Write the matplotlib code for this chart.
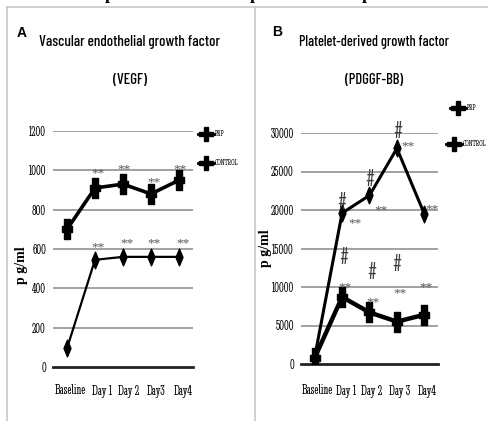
import matplotlib
matplotlib.use("Agg")
import matplotlib.pyplot as plt
from matplotlib.lines import Line2D
from matplotlib.path import Path
import matplotlib.font_manager as fm

categories = ["Baseline", "Day1", "Day2", "Day3", "Day4"]
cat_labels_a = ["Baseline", "Day 1", "Day 2", "Day3", "Day4"]
cat_labels_b = ["Baseline", "Day 1", "Day 2", "Day 3", "Day4"]

vegf_prp = [95, 545, 560, 560, 560]
vegf_control = [700, 910, 930, 880, 950]
pdgf_prp = [900, 19600, 21900, 28000, 19500]
pdgf_control = [800, 8700, 6700, 5500, 6400]

yticks_a = [0, 200, 400, 600, 800, 1000, 1200]
yticks_b = [0, 5000, 10000, 15000, 20000, 25000, 30000]

W, H = 489, 421


def pick(cands):
    for n in cands:
        try:
            fm.findfont(fm.FontProperties(family=n), fallback_to_default=False)
            return n
        except Exception:
            continue
    return "DejaVu Sans"


NARROW = pick(["Barlow Condensed", "Roboto Condensed", "PT Sans Narrow",
               "Archivo Narrow", "Liberation Sans"])
SERIFN = pick(["Noto Serif ExtraCondensed", "Noto Serif Condensed",
               "Noto Serif Display ExtraCondensed", "Stint Ultra Condensed",
               "Liberation Serif"])
SERIF = pick(["Liberation Serif", "DejaVu Serif"])

fig = plt.figure(figsize=(W / 100, H / 100), dpi=100)
renderer = fig.canvas.get_renderer()


def fit(t, width_px):
    bb = t.get_window_extent(renderer)
    t.set_fontsize(t.get_fontsize() * width_px / bb.width)
    return t.get_fontsize()


# fat cross marker (tall)
cross = Path([(-0.28, -1), (0.28, -1), (0.28, -0.3), (0.5, -0.3), (0.5, 0.3),
              (0.28, 0.3), (0.28, 1), (-0.28, 1), (-0.28, 0.3), (-0.5, 0.3),
              (-0.5, -0.3), (-0.28, -0.3), (-0.28, -1)], closed=True)
diamond = Path([(0, -1), (0.42, 0), (0, 1), (-0.42, 0), (0, -1)], closed=True)

# frame
fig.add_artist(Line2D([7 / W, 1], [1 - 7 / H, 1 - 7 / H], color="#c8c8c8", lw=1.2))
fig.add_artist(Line2D([7 / W, 7 / W], [0, 1 - 7 / H], color="#c8c8c8", lw=1.2))
fig.add_artist(Line2D([255 / W, 255 / W], [0, 1 - 7 / H], color="#c8c8c8", lw=1.2))

# cut-off caption descenders at top
for px in [110, 255, 367]:
    fig.text(px / W, 1.0 + 1 / H, "p", fontsize=13, fontweight="bold", family=SERIF,
             ha="center", va="baseline")

x = [i + 0.5 for i in range(len(categories))]

# tick-label sizes fitted to the reference widths
probe = fig.text(0, 0, "30000", family=SERIFN, fontsize=8)
TICK_FS = min(fit(probe, 23), 11)
probe.remove()
probe = fig.text(0, 0, "Baseline", family=SERIFN, fontsize=8)
XLAB_FS = min(fit(probe, 31), 11)
probe.remove()


def style(ax, yticks, labels, xlab_centers):
    ax.set_xlim(0, 5)
    ax.set_ylim(yticks[0], yticks[-1])
    ax.set_yticks(yticks)
    ax.set_yticklabels([str(t) for t in yticks], family=SERIFN, fontsize=TICK_FS)
    ax.set_xticks(x)
    ax.set_xticklabels([])
    ax.tick_params(length=0, pad=5)
    for s in ["left", "right", "top"]:
        ax.spines[s].set_visible(False)
    ax.spines["bottom"].set_linewidth(2.0)
    ax.spines["bottom"].set_color("#222222")
    for t in yticks[1:]:
        ax.axhline(t, color="#9a9a9a", lw=1.3, zorder=0)
    for lab, xc in zip(labels, xlab_centers):
        fig.text(xc / W, 1 - 391 / H, lab, family=SERIFN, fontsize=XLAB_FS,
                 ha="center", va="center")
    ax.set_ylabel("p g/ml", family=SERIF, fontweight="bold", fontsize=10)


ax1 = fig.add_axes([53 / W, 1 - 367 / H, 140 / W, 236 / H])
style(ax1, yticks_a, cat_labels_a, [70, 102, 129, 156, 183])
ax1.yaxis.set_label_coords(-0.18, 0.43)
ax1.plot(x, vegf_prp, color="black", lw=1.6, marker=diamond, ms=12, zorder=3)
ax1.plot(x, vegf_control, color="black", lw=2.6, marker=cross, ms=15, zorder=3)
for xi, yi in [(1.61, 986), (2.54, 1007), (3.61, 940), (4.54, 1007),
               (1.61, 610), (2.64, 630), (3.61, 630), (4.64, 630)]:
    ax1.text(xi, yi, "**", ha="center", va="center", fontsize=9.5, family=SERIF,
             color="#555555")

ax2 = fig.add_axes([301 / W, 1 - 364 / H, 137 / W, 231 / H])
style(ax2, yticks_b, cat_labels_b, [317, 346, 372, 400, 427])
ax2.yaxis.set_label_coords(-0.21, 0.5)
ax2.plot(x, pdgf_prp, color="black", lw=2.2, marker=diamond, ms=12, zorder=3)
ax2.plot(x, pdgf_control, color="black", lw=3.2, marker=cross, ms=15, zorder=3)
for xi, yi, s in [(1.50, 20900, "#"), (1.97, 18300, "**"), (2.52, 23900, "#"),
                  (2.92, 20000, "**"), (3.54, 30100, "#"), (3.91, 28300, "**"),
                  (4.78, 20100, "**"), (1.57, 13800, "#"), (1.61, 10000, "**"),
                  (2.59, 11800, "#"), (2.63, 8050, "**"), (3.50, 12900, "#"),
                  (3.61, 9200, "**"), (4.56, 10000, "**")]:
    if s == "#":
        ax2.text(xi, yi, "#", ha="center", va="center", fontsize=18,
                 family=SERIFN, color="#3a3a3a", clip_on=False)
    else:
        ax2.text(xi, yi, "**", ha="center", va="center", fontsize=9.5,
                 family=SERIF, color="#555555", clip_on=False)


# legends
def leg(px, py, label):
    fig.add_artist(Line2D([(px - 8) / W, (px + 8) / W], [1 - py / H, 1 - py / H],
                          color="black", lw=2))
    fig.add_artist(Line2D([px / W], [1 - py / H], marker="P", ms=10, color="black"))
    fig.text((px + 9) / W, 1 - py / H, label, family=SERIFN, fontsize=6.5, va="center")


leg(206, 134, "PRP")
leg(206, 163, "CONTROL")
leg(458, 108, "PRP")
leg(454, 144, "CONTROL")

# titles
fig.text(17 / W, 1 - 33 / H, "A", fontsize=10, family="Liberation Sans",
         fontweight="bold", va="center")
fig.text(272 / W, 1 - 32 / H, "B", fontsize=10, family="Liberation Sans",
         fontweight="bold", va="center")
for txt, cx, cy, wpx in [("Vascular endothelial growth factor", 130, 42, 182),
                         ("(VEGF)", 130, 80, 34),
                         ("Platelet-derived growth factor", 374, 42, 152),
                         ("(PDGGF-BB)", 374, 80, 58)]:
    t = fig.text(cx / W, 1 - cy / H, txt, family=NARROW, fontweight="medium",
                 fontsize=12, ha="center", va="center")
    fit(t, wpx)

fig.savefig("out.png", dpi=100)
